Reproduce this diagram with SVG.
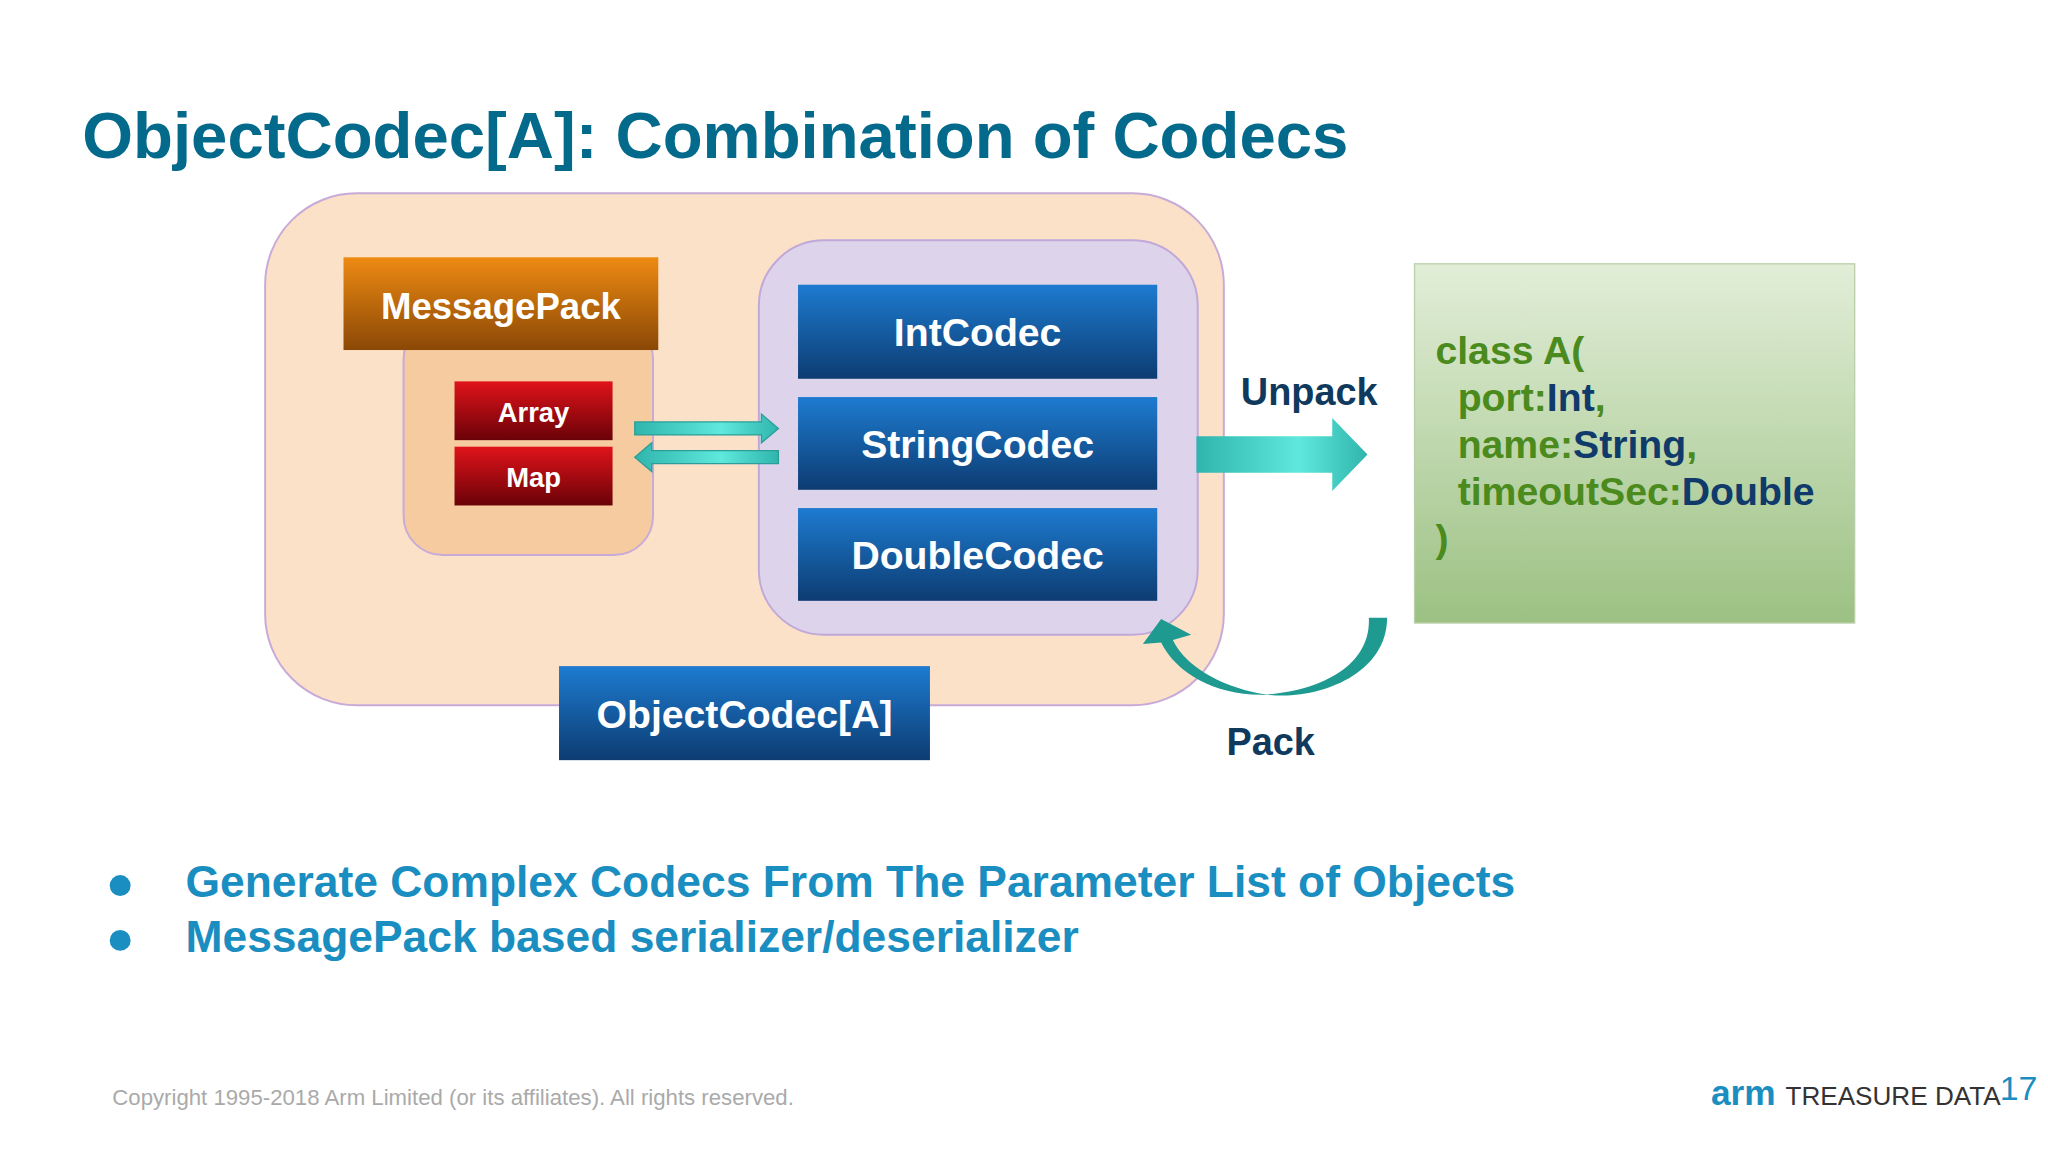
<svg xmlns="http://www.w3.org/2000/svg" width="2048" height="1152" viewBox="0 0 2048 1152">
<defs>
<linearGradient id="gBlue" x1="0" y1="0" x2="0" y2="1"><stop offset="0" stop-color="#1d7bd0"/><stop offset="1" stop-color="#0d3c72"/></linearGradient>
<linearGradient id="gOr" x1="0" y1="0" x2="0" y2="1"><stop offset="0" stop-color="#ee8a12"/><stop offset="1" stop-color="#8a4806"/></linearGradient>
<linearGradient id="gRed" x1="0" y1="0" x2="0" y2="1"><stop offset="0" stop-color="#e0131a"/><stop offset="1" stop-color="#6a0208"/></linearGradient>
<linearGradient id="gGreen" x1="0" y1="0" x2="0" y2="1"><stop offset="0" stop-color="#e2eed8"/><stop offset="1" stop-color="#9cc183"/></linearGradient>
<linearGradient id="gTeal" x1="0" y1="0" x2="1" y2="0"><stop offset="0" stop-color="#2fb5ad"/><stop offset="0.6" stop-color="#5fe8dc"/><stop offset="1" stop-color="#2fb5ad"/></linearGradient>
<style>
.w{font-family:"Liberation Sans",Arial,sans-serif;font-weight:bold;fill:#fff;text-anchor:middle}
.b{font-family:"Liberation Sans",Arial,sans-serif;font-weight:bold}
.code{font-size:30px;fill:#4b8a1c}
.cd{fill:#0f3a6a}
</style>
</defs>
<rect width="2048" height="1152" fill="#fff"/>
<g transform="scale(1.30612)">
<text x="63" y="121" class="b" font-size="50" fill="#046a8c">ObjectCodec[A]: Combination of Codecs</text>
<g id="outer"><rect x="203" y="148" width="734" height="392" rx="70" fill="#fbe1c8" stroke="#c8aad8" stroke-width="1.5"/></g>
<g id="inner-pack"><rect x="309" y="245" width="191" height="180" rx="30" fill="#f7cba0" stroke="#c8aad8" stroke-width="1.5"/></g>
<g id="purple"><rect x="581" y="184" width="336" height="302" rx="50" fill="#ddd4eb" stroke="#c0a8d8" stroke-width="1.5"/></g>
<g id="messagepack"><rect x="263" y="197" width="241" height="71" fill="url(#gOr)"/><text x="383.5" y="244" class="w" font-size="28">MessagePack</text></g>
<g id="array"><rect x="348" y="292" width="121" height="45" fill="url(#gRed)"/><text x="408.5" y="323" class="w" font-size="21">Array</text></g>
<g id="map"><rect x="348" y="342" width="121" height="45" fill="url(#gRed)"/><text x="408.5" y="373" class="w" font-size="21">Map</text></g>
<g id="intcodec"><rect x="611" y="218" width="275" height="72" fill="url(#gBlue)"/><text x="748.5" y="265" class="w" font-size="30">IntCodec</text></g>
<g id="stringcodec"><rect x="611" y="304" width="275" height="71" fill="url(#gBlue)"/><text x="748.5" y="351" class="w" font-size="30">StringCodec</text></g>
<g id="doublecodec"><rect x="611" y="389" width="275" height="71" fill="url(#gBlue)"/><text x="748.5" y="436" class="w" font-size="30">DoubleCodec</text></g>
<g id="objectcodec"><rect x="428" y="510" width="284" height="72" fill="url(#gBlue)"/><text x="570" y="557" class="w" font-size="30">ObjectCodec[A]</text></g>
<g id="classA"><rect x="1083" y="202" width="337" height="275" fill="url(#gGreen)" stroke="#b9cfa8"/>
<text class="b code"><tspan x="1099" y="279">class A(</tspan><tspan x="1116" y="315">port:<tspan class="cd">Int</tspan>,</tspan><tspan x="1116" y="351">name:<tspan class="cd">String</tspan>,</tspan><tspan x="1116" y="387">timeoutSec:<tspan class="cd">Double</tspan></tspan><tspan x="1099" y="423">)</tspan></text></g>
<g id="connectors">
<polygon points="486,323 583,323 583,317 596,328 583,339 583,333 486,333" fill="url(#gTeal)" stroke="#2a9f98" stroke-width="1"/>
<polygon points="596,345 499,345 499,339 486,350 499,361 499,355 596,355" fill="url(#gTeal)" stroke="#2a9f98" stroke-width="1"/>
<polygon points="916,334 1020,334 1020,320 1047,348 1020,376 1020,362 916,362" fill="url(#gTeal)"/>
<path d="M1062,473 C1062,520 1000,540 960,530 C925,522 905,505 898,490 L912,486 L889,474 L875,493 L889,492 C900,515 930,532 965,532 C1010,530 1050,510 1048,473 Z" fill="#1e9a90"/>
<text x="950" y="310" class="b" font-size="29" fill="#0f3a5e">Unpack</text>
<text x="939" y="578" class="b" font-size="29" fill="#0f3a5e">Pack</text>
</g>
<circle cx="92" cy="678" r="8" fill="#1a8ec0"/><circle cx="92" cy="720" r="8" fill="#1a8ec0"/>
<text x="142" y="687" class="b" font-size="34" fill="#1a8ec0">Generate Complex Codecs From The Parameter List of Objects</text>
<text x="142" y="729" class="b" font-size="34" fill="#1a8ec0">MessagePack based serializer/deserializer</text>
<text x="86" y="846" font-family="Liberation Sans,Arial,sans-serif" font-size="17" fill="#aaaaaa">Copyright 1995-2018 Arm Limited (or its affiliates). All rights reserved.</text>
<text x="1310" y="846" class="b" font-size="27" fill="#1a8ec0">arm</text>
<text x="1367" y="846" font-family="Liberation Sans,Arial,sans-serif" font-size="20" fill="#333">TREASURE DATA</text>
<text x="1531" y="842" font-family="Liberation Sans,Arial,sans-serif" font-size="26" fill="#1a8ec0">17</text>
</g>
</svg>
